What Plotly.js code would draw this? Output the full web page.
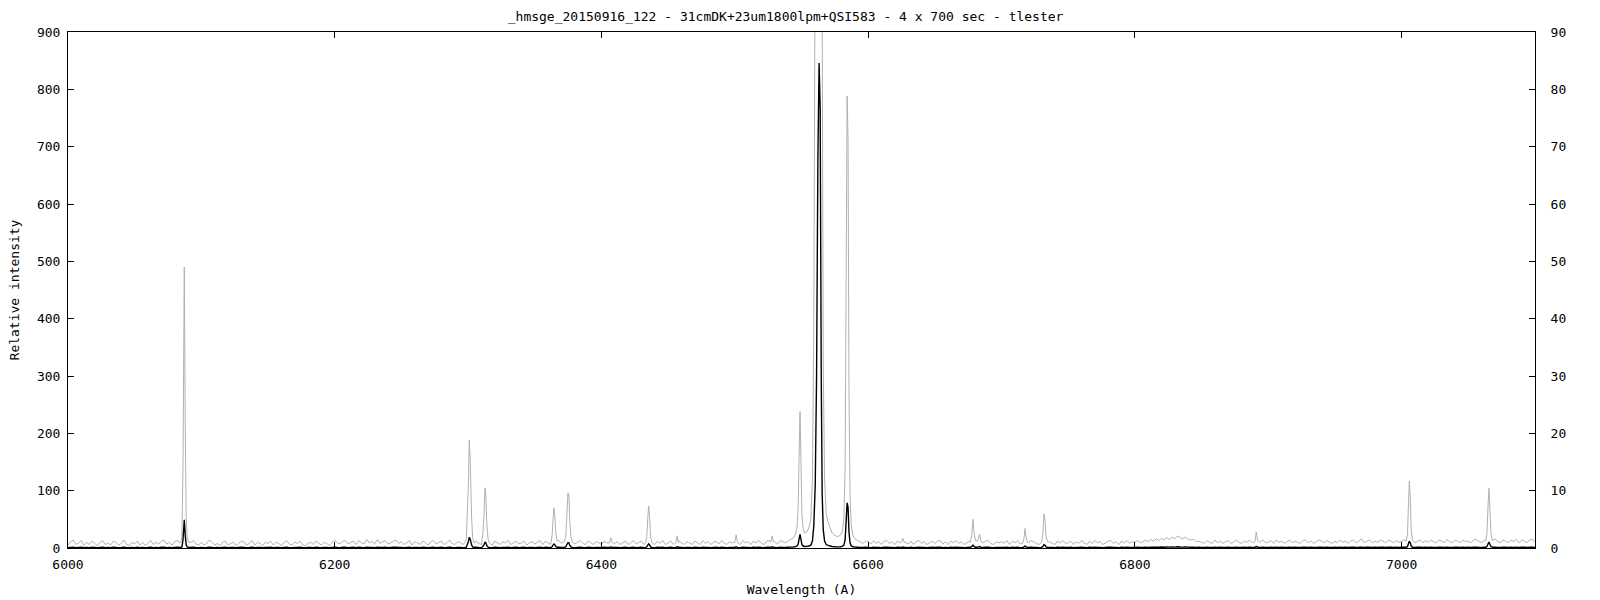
<!DOCTYPE html>
<html>
<head>
<meta charset="utf-8">
<script src="https://cdn.plot.ly/plotly-3.0.1.min.js"></script>
<style>html,body{margin:0;padding:0;background:#fff}#chart{width:1600px;height:600px}</style>
</head>
<body>
<div id="chart"></div>
<script>
// ---- data (relative intensity vs wavelength in Angstrom) ----
const chartTitle = "_hmsge_20150916_122 - 31cmDK+23um1800lpm+QSI583 - 4 x 700 sec - tlester";
const xTitle = "Wavelength (A)";
const yTitle = "Relative intensity";

const xTicks = [6000, 6200, 6400, 6600, 6800, 7000];
const yLeftTicks = [0, 100, 200, 300, 400, 500, 600, 700, 800, 900];
const yRightTicks = [0, 10, 20, 30, 40, 50, 60, 70, 80, 90];

// continuum samples every 2 A starting at 6000 A
const baseStart = 6000;
const baseStep = 2;
const baseFlux = [
0.5,1.1,1.4,0.6,0.9,1.3,0.4,1.0,0.6,1.2,0.8,0.4,1.0,1.3,0.6,0.9,0.5,1.2,1.0,0.5,0.8,1.4,0.6,0.4,1.0,
0.7,1.2,0.5,1.0,0.4,0.8,1.3,0.6,1.0,0.7,1.2,1.4,0.7,1.0,0.5,1.1,1.3,0.9,1.1,0.7,0.5,1.0,1.3,0.7,0.5,
1.0,0.5,0.8,1.4,1.0,0.5,0.8,0.4,1.0,1.2,0.5,0.8,1.0,0.4,0.8,1.2,1.0,0.5,0.8,1.3,0.5,1.0,0.8,0.4,1.0,
0.8,1.2,0.5,1.0,0.8,0.4,1.0,1.3,0.7,0.5,1.0,0.8,1.2,0.5,0.4,0.8,1.0,0.6,1.2,0.8,0.5,1.0,0.8,0.4,1.0,
1.4,0.9,0.7,1.2,1.3,0.7,1.0,1.2,0.6,1.3,0.9,0.7,1.5,0.9,1.1,0.7,1.5,0.8,1.1,1.3,0.7,0.9,1.2,1.4,0.8,
1.1,0.6,0.9,1.3,0.5,1.1,0.9,0.6,1.2,0.9,0.5,1.1,1.3,0.7,1.0,1.2,0.6,0.9,1.4,0.8,0.6,1.1,1.0,0.6,1.1,
0.9,0.6,1.1,1.2,0.8,0.6,1.3,0.9,0.6,0.5,1.2,0.9,0.6,1.1,0.9,1.3,0.6,0.9,1.2,0.7,0.9,1.2,0.5,0.9,1.1,
0.7,1.0,1.3,0.6,1.2,0.9,0.6,1.1,0.9,1.3,0.8,1.1,0.6,0.9,1.2,0.7,1.0,1.3,0.8,0.6,1.2,0.9,0.6,1.1,0.9,
0.6,1.2,0.9,0.6,1.3,0.8,1.1,0.6,0.9,1.2,0.6,0.9,1.3,0.7,1.0,1.2,0.6,0.9,1.1,0.9,0.6,1.2,0.8,1.3,0.6,
0.9,1.2,0.6,1.0,1.3,0.9,0.6,1.1,0.9,0.6,1.2,0.9,0.6,1.3,0.8,1.1,0.6,1.0,1.2,0.7,1.3,0.9,0.6,1.1,0.9,
1.1,0.9,0.6,1.3,0.9,1.1,0.6,1.2,0.9,1.3,0.8,0.6,1.2,1.3,0.9,1.1,0.7,1.3,1.1,0.9,1.2,1.4,1.1,1.0,1.3,
1.3,1.5,1.8,2.0,2.2,2.5,2.4,2.2,2.0,2.1,2.0,2.2,2.4,2.2,2.0,1.8,1.6,1.5,1.4,1.3,1.2,1.1,1.2,0.8,1.2,
1.1,0.7,1.3,0.8,1.1,0.6,1.2,1.3,0.8,1.1,0.6,1.2,0.9,1.4,1.0,0.7,1.2,0.6,1.1,1.3,0.8,1.1,0.6,0.9,1.2,
0.8,1.2,1.3,0.7,1.1,0.6,1.2,0.9,1.3,0.8,1.1,0.6,0.9,1.2,1.3,0.8,1.1,0.6,0.9,1.2,1.3,0.8,0.6,1.1,0.9,
1.1,0.8,1.3,0.6,1.2,0.9,1.3,0.7,1.1,0.6,0.9,1.3,1.1,0.8,0.6,1.2,0.9,1.3,1.1,0.8,0.6,1.2,0.9,1.3,0.8,
0.9,1.2,0.6,1.1,0.8,1.3,0.9,0.6,1.2,0.8,1.3,0.9,1.1,0.6,0.9,1.2,1.3,0.8,1.1,0.6,1.2,0.9,1.3,0.8,1.1,
1.0,1.3,0.9,1.1,1.4,1.1,1.5,1.2,1.6,1.3,1.7,1.4,1.8,1.5,1.9,1.6,2.1,1.8,1.6,1.9,1.5,1.4,1.5,1.1,1.2,
1.0,0.8,1.3,1.0,0.8,1.4,0.9,1.2,0.8,1.1,1.3,0.8,1.0,1.4,1.0,0.8,1.2,1.0,1.4,0.9,0.8,1.3,1.0,1.4,0.9,
1.0,1.3,0.8,1.4,1.0,1.2,0.8,1.1,1.4,0.9,1.2,1.0,0.8,1.3,1.4,0.9,1.2,0.8,1.1,1.4,1.2,0.9,1.3,1.0,0.8,
1.2,0.9,1.4,1.0,1.2,0.8,1.3,1.4,0.9,1.2,1.6,0.9,1.2,1.4,0.9,1.2,1.0,1.4,1.2,0.9,1.4,1.2,0.9,1.3,1.0,
1.2,1.4,0.9,1.2,1.4,0.9,1.2,1.4,0.9,1.3,1.0,1.4,1.1,0.9,1.4,1.2,0.9,1.5,1.1,0.9,1.4,1.2,0.9,1.4,1.1,
1.2,0.9,1.4,1.5,1.1,0.9,1.4,1.2,0.9,1.4,1.6,1.1,0.9,1.4,1.2,0.9,1.4,1.1,1.5,0.9,1.4,1.2,0.9,1.4,1.5,
1.1
];

// emission-line profile samples (wavelength, intensity)
const lineWl = [
  6084.6,6085.4,6086.2,6087.2,6087.9,6088.6,6089.4,6090.4,
  6297.8,6298.7,6299.4,6300.2,6300.9,6301.6,6302.6,6303.4,6304.4,
  6310.2,6311.0,6311.9,6312.7,6313.4,6314.1,6315.0,6316.0,
  6362.2,6363.0,6363.7,6364.4,6365.1,6365.8,6366.8,
  6372.4,6373.3,6374.1,6374.9,6375.6,6376.3,6377.1,6378.3,
  6406.0,6407.0,6408.0,
  6433.2,6434.0,6434.7,6435.4,6436.1,6436.8,6437.8,
  6455.7,6456.7,6457.7,
  6500.0,6501.0,6502.0,
  6527.0,6528.0,6529.0,
  6540.0,6542.0,6544.0,6545.5,6546.6,6547.5,6548.2,6548.9,6549.6,6550.3,6551.2,6552.5,6554.0,6555.5,6557.0,
  6558.2,6559.2,6560.3,6561.3,6562.3,6563.2,6564.0,6564.8,6565.5,6566.3,6567.3,6568.5,6570.0,6571.5,6573.0,
  6575.0,6577.0,6579.0,6580.5,6581.8,6582.7,6583.5,6584.2,6584.9,6585.6,6586.4,6587.3,6588.5,6590.0,6592.0,6594.0,
  6625.0,6626.0,6627.0,
  6676.5,6677.6,6678.6,6679.5,6680.5,6682.0,6683.6,6684.6,
  6716.0,6716.9,6717.6,6718.4,6719.3,
  6730.0,6731.0,6731.8,6732.6,6733.4,6734.5,
  6890.0,6891.0,6892.0,
  7003.5,7004.4,7005.1,7005.8,7006.5,7007.2,7008.2,
  7063.0,7064.0,7064.8,7065.5,7066.2,7067.0,7068.0
];
const lineFlux = [
  1.0,1.9,13.5,49.0,22.0,5.4,1.8,1.0,
  1.0,1.6,6.3,11.0,18.8,15.4,5.5,1.8,0.9,
  1.0,2.4,5.5,10.5,8.5,4.0,1.5,0.9,
  1.0,2.2,5.0,7.0,5.5,2.5,1.2,
  1.1,2.3,6.0,9.6,9.0,4.5,2.0,1.0,
  0.9,1.8,0.9,
  1.0,2.0,5.2,7.3,5.3,2.0,1.0,
  0.9,2.1,0.9,
  1.0,2.3,1.0,
  1.0,2.1,1.1,
  1.2,1.5,1.8,2.4,3.5,7.0,16.0,23.8,15.0,6.0,3.4,2.6,2.8,3.5,5.0,
  12.0,38.0,110.0,300.0,680.0,846.0,767.0,300.0,95.0,32.0,12.0,6.0,4.5,3.5,2.6,
  2.2,2.0,2.2,2.8,5.0,14.0,48.0,78.8,71.5,28.0,9.0,4.0,2.2,1.6,1.3,1.1,
  1.0,1.7,1.0,
  1.0,2.2,5.0,2.4,1.3,1.2,2.4,1.1,
  0.9,1.8,3.4,1.9,1.0,
  1.0,2.5,5.9,4.8,2.0,1.1,
  1.1,2.8,1.3,
  1.2,2.5,7.5,11.7,9.0,3.0,1.4,
  1.2,2.5,7.5,10.4,6.5,2.5,1.3
];

// ---- merge continuum and line samples ----
const groups = [];
for (let i = 0; i < lineWl.length; i++) {
  if (i === 0 || lineWl[i] - lineWl[i - 1] > 3) groups.push([lineWl[i], lineWl[i]]);
  else groups[groups.length - 1][1] = lineWl[i];
}
const pts = [];
baseFlux.forEach((v, i) => {
  const w = baseStart + i * baseStep;
  if (!groups.some(g => w >= g[0] && w <= g[1])) pts.push([w, v]);
});
lineWl.forEach((w, i) => pts.push([w, lineFlux[i]]));
pts.sort((a, b) => a[0] - b[0]);
const wl = pts.map(p => p[0]);
const flux = pts.map(p => p[1]);

const font = {family: "DejaVu Sans Mono, monospace", size: 13, color: "#000"};

const traces = [
  {x: wl, y: flux, type: "scatter", mode: "lines", yaxis: "y",
   line: {color: "#b0b0b0", width: 1, simplify: false}, hoverinfo: "skip", showlegend: false},
  {x: wl, y: flux, type: "scatter", mode: "lines", yaxis: "y2",
   line: {color: "#000000", width: 1.4, simplify: false}, hoverinfo: "skip", showlegend: false}
];

const layout = {
  width: 1600, height: 600,
  margin: {l: 68, r: 65, t: 32, b: 52},
  paper_bgcolor: "#fff", plot_bgcolor: "#fff",
  font: font,
  showlegend: false,
  title: {text: chartTitle, font: font, x: 0.491, xref: "container", xanchor: "center", y: 0.973, yref: "container", yanchor: "middle"},
  xaxis: {
    range: [6000, 7100], tickvals: xTicks, ticktext: xTicks.map(String),
    ticks: "inside", ticklen: 6, tickcolor: "#000", tickwidth: 1,
    showline: true, linecolor: "#000", linewidth: 1, mirror: "ticks",
    showgrid: false, zeroline: false, tickfont: font, ticklabelstandoff: 4,
    title: {text: xTitle, font: font, standoff: 14}
  },
  yaxis: {
    range: [0, 90], tickvals: yRightTicks, ticktext: yRightTicks.map(String), side: "right",
    ticks: "inside", ticklen: 6, tickcolor: "#000", tickwidth: 1,
    showline: true, linecolor: "#000", linewidth: 1,
    showgrid: false, zeroline: false, tickfont: font, ticklabelstandoff: 12
  },
  yaxis2: {
    range: [0, 900], tickvals: yLeftTicks, ticktext: yLeftTicks.map(String), side: "left",
    overlaying: "y", anchor: "x",
    ticks: "inside", ticklen: 6, tickcolor: "#000", tickwidth: 1,
    showline: true, linecolor: "#000", linewidth: 1,
    showgrid: false, zeroline: false, tickfont: font, ticklabelstandoff: 4,
    title: {text: yTitle, font: font, standoff: 14}
  }
};

Plotly.newPlot("chart", traces, layout, {staticPlot: true, displayModeBar: false});
</script>
</body>
</html>
